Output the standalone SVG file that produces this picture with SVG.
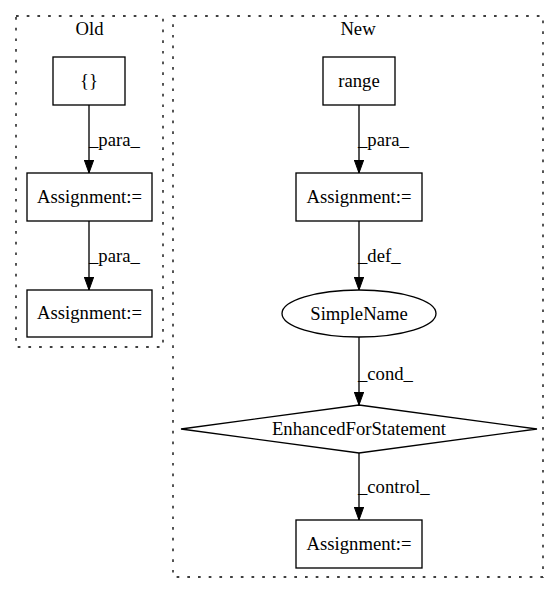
<svg xmlns="http://www.w3.org/2000/svg" width="560" height="596" viewBox="0 0 560 596">
<defs>
<marker id="arr" markerWidth="13" markerHeight="10" refX="13" refY="4.7" orient="auto" markerUnits="userSpaceOnUse">
<polygon points="0,0 13,4.7 0,9.4" fill="#000" stroke="#000" stroke-width="1"/>
</marker>
</defs>
<style>
text{font-family:"Liberation Serif","Times New Roman",serif;font-size:18.67px;fill:#000}
.c{fill:none;stroke:#000;stroke-width:1.33;stroke-dasharray:2.7,8}
.n{fill:#fff;stroke:#000;stroke-width:1.33}
.e{fill:none;stroke:#000;stroke-width:1.33;marker-end:url(#arr)}
.m{text-anchor:middle}
</style>
<rect width="560" height="596" fill="#fff"/>
<g id="cluster_old">
<rect class="c" x="16" y="16" width="147" height="331"/>
<text class="m" x="89.5" y="35">Old</text>
</g>
<g id="cluster_new">
<rect class="c" x="173" y="16" width="370" height="561"/>
<text class="m" x="358" y="35">New</text>
</g>
<g id="connectors">
<line class="e" x1="89" y1="105" x2="89" y2="173"/>
<text x="89" y="146">_para_</text>
<line class="e" x1="89" y1="221" x2="89" y2="290"/>
<text x="89" y="262">_para_</text>
<line class="e" x1="359" y1="105" x2="359" y2="173"/>
<text x="358" y="146">_para_</text>
<line class="e" x1="359" y1="221" x2="359" y2="290"/>
<text x="358" y="262">_def_</text>
<line class="e" x1="359" y1="337" x2="359" y2="405"/>
<text x="358" y="380">_cond_</text>
<line class="e" x1="359" y1="453" x2="359" y2="520"/>
<text x="358" y="493">_control_</text>
</g>
<g id="old_braces">
<rect class="n" x="53" y="57" width="72" height="48"/>
<text class="m" x="89" y="87">{}</text>
</g>
<g id="old_assign1">
<rect class="n" x="27" y="173" width="125" height="48"/>
<text class="m" x="89.5" y="203">Assignment:=</text>
</g>
<g id="old_assign2">
<rect class="n" x="27" y="290" width="125" height="47"/>
<text class="m" x="89.5" y="319">Assignment:=</text>
</g>
<g id="new_range">
<rect class="n" x="323" y="57" width="72" height="48"/>
<text class="m" x="359" y="87">range</text>
</g>
<g id="new_assign1">
<rect class="n" x="296" y="173" width="126" height="48"/>
<text class="m" x="359" y="203">Assignment:=</text>
</g>
<g id="new_simplename">
<ellipse class="n" cx="359" cy="313.5" rx="77" ry="23.5"/>
<text class="m" x="359" y="320">SimpleName</text>
</g>
<g id="new_for">
<polygon class="n" points="359,405 537,429 359,453 181,429"/>
<text class="m" x="359" y="435">EnhancedForStatement</text>
</g>
<g id="new_assign2">
<rect class="n" x="296" y="520" width="126" height="48"/>
<text class="m" x="359" y="550">Assignment:=</text>
</g>
</svg>
